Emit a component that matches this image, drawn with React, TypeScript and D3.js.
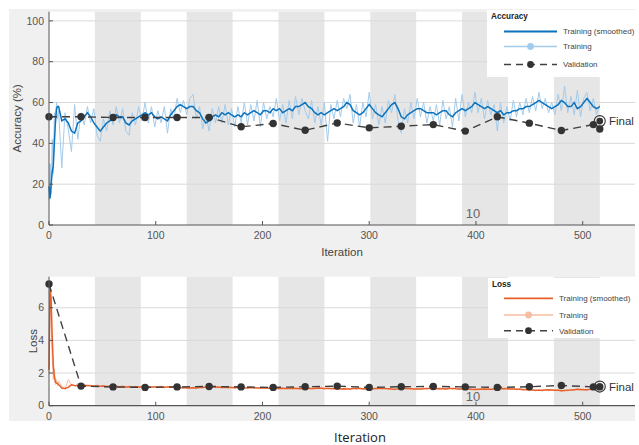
import React from "react";
import * as d3 from "d3";

const W = 639;
const H = 445;

// iterations 0-8 logged one by one, after that every 3rd iteration
const trainIters = [0, 1, 2, 3, 4, 5, 6, 7, 8, ...d3.range(9, 517, 3)];

const accSmoothed = [
  19, 13, 20, 26, 29, 40, 50, 57, 58,
  58, 51, 52, 50, 46, 45, 50, 51, 53, 55,
  53, 50, 48, 46, 48, 50, 51, 52, 54, 53,
  53, 50, 49, 51, 52, 53, 54, 55, 54, 55,
  53, 52, 53, 52, 51, 54, 56, 58, 59, 58,
  57, 58, 58, 56, 55, 52, 50, 51, 53, 54,
  53, 55, 54, 55, 54, 53, 54, 53, 55, 54,
  55, 56, 55, 54, 56, 56, 55, 57, 56, 57,
  55, 56, 57, 56, 58, 58, 59, 60, 58, 57,
  55, 54, 55, 54, 55, 56, 57, 56, 57, 58,
  60, 59, 56, 55, 54, 55, 57, 59, 57, 55,
  54, 53, 55, 57, 59, 60, 57, 53, 52, 54,
  55, 56, 57, 57, 56, 55, 55, 55, 54, 55,
  56, 56, 54, 53, 55, 56, 57, 56, 57, 58,
  60, 59, 58, 57, 58, 57, 56, 55, 56, 54,
  55, 55, 56, 56, 57, 57, 58, 58, 59, 60,
  61, 60, 59, 58, 57, 58, 59, 61, 60, 58,
  58, 60, 57, 58, 60, 62, 60, 58, 57, 58,
];

const accTraining = [
  12, 30, 15, 42, 25, 55, 48, 60, 52,
  56, 28, 55, 47, 36, 59, 42, 55, 49, 58,
  50, 57, 44, 41, 52, 46, 56, 49, 58, 50,
  57, 46, 44, 55, 49, 58, 51, 60, 50, 58,
  48, 56, 50, 58, 45, 57, 52, 62, 55, 61,
  54, 62, 64, 52, 58, 47, 54, 46, 57, 50,
  58, 50, 59, 49, 57, 48, 58, 50, 60, 49,
  59, 51, 61, 48, 60, 52, 58, 53, 62, 51,
  59, 50, 61, 52, 63, 54, 62, 56, 52, 61,
  50, 58, 49, 60, 41, 59, 52, 61, 53, 62,
  57, 64, 50, 59, 48, 60, 53, 65, 52, 59,
  49, 58, 50, 61, 55, 64, 51, 45, 57, 50,
  60, 52, 62, 53, 60, 50, 58, 51, 59, 49,
  61, 52, 58, 48, 62, 51, 64, 53, 60, 55,
  65, 55, 62, 52, 61, 54, 59, 46, 60, 50,
  58, 51, 61, 53, 60, 54, 62, 55, 63, 56,
  65, 57, 62, 55, 60, 54, 64, 56, 68, 55,
  63, 54, 66, 53, 62, 65, 56, 62, 54, 59,
];

const lossSmoothed = [
  2.2, 7.3, 6.5, 4.2, 2.5, 1.8, 1.45, 1.4, 1.35,
  1.3, 1.08, 1.05, 1.12, 1.28, 1.24, 1.22, 1.25, 1.24, 1.23,
  1.22, 1.2, 1.21, 1.19, 1.2, 1.18, 1.19, 1.17, 1.18, 1.16,
  1.17, 1.15, 1.16, 1.15, 1.16, 1.14, 1.15, 1.13, 1.15, 1.14,
  1.15, 1.14, 1.16, 1.13, 1.14, 1.15, 1.13, 1.12, 1.1, 1.11,
  1.09, 1.08, 1.1, 1.09, 1.11, 1.12, 1.14, 1.16, 1.15, 1.14,
  1.13, 1.12, 1.11, 1.13, 1.12, 1.1, 1.11, 1.12, 1.1, 1.09,
  1.11, 1.1, 1.08, 1.09, 1.1, 1.08, 1.07, 1.04, 1.06, 1.05,
  1.07, 1.06, 1.05, 1.07, 1.06, 1.05, 1.04, 1.06, 1.07, 1.05,
  1.06, 1.08, 1.07, 1.06, 1.05, 1.06, 1.04, 1.05, 1.03, 1.04,
  1.02, 1.03, 1.05, 1.06, 1.05, 1.04, 1.03, 1.02, 1.04, 1.05,
  1.06, 1.07, 1.05, 1.04, 1.02, 1.01, 1.03, 1.08, 1.06, 1.05,
  1.04, 1.03, 1.02, 1.03, 1.04, 1.05, 1.06, 1.05, 1.04, 1.05,
  1.04, 1.03, 1.05, 1.06, 1.04, 1.03, 1.02, 1.03, 1.02, 1.0,
  0.99, 1.0, 1.01, 1.02, 1.0, 1.01, 1.03, 1.05, 1.04, 1.06,
  1.04, 1.03, 1.02, 1.01, 1.0, 0.99, 0.98, 0.97, 0.96, 0.95,
  0.94, 0.95, 0.96, 0.97, 0.96, 0.95, 0.94, 0.92, 0.93, 0.95,
  0.96, 0.98, 1.0, 0.99, 0.98, 0.97, 1.0, 1.03, 1.05, 1.08,
];

const lossTraining = [
  2.0, 7.4, 5.0, 3.0, 1.6, 2.2, 1.3, 1.6, 1.2,
  1.5, 1.2, 1.0, 1.6, 1.3, 1.2, 1.35, 1.15, 1.3, 1.2,
  1.25, 1.15, 1.28, 1.16, 1.24, 1.14, 1.22, 1.12, 1.22, 1.12,
  1.2, 1.1, 1.22, 1.11, 1.2, 1.1, 1.2, 1.09, 1.19, 1.1,
  1.2, 1.1, 1.21, 1.08, 1.18, 1.1, 1.17, 1.08, 1.14, 1.06,
  1.13, 1.04, 1.14, 1.05, 1.16, 1.08, 1.19, 1.12, 1.2, 1.1,
  1.18, 1.08, 1.16, 1.08, 1.17, 1.06, 1.15, 1.08, 1.14, 1.05,
  1.15, 1.06, 1.13, 1.04, 1.14, 1.04, 1.11, 1.0, 1.1, 1.01,
  1.12, 1.02, 1.1, 1.03, 1.11, 1.0, 1.09, 1.02, 1.12, 1.0,
  1.11, 1.03, 1.12, 1.01, 1.1, 1.02, 1.09, 1.0, 1.08, 0.99,
  1.07, 0.98, 1.1, 1.01, 1.1, 0.99, 1.08, 0.97, 1.09, 1.0,
  1.11, 1.02, 1.1, 0.99, 1.07, 0.96, 1.08, 1.13, 1.1, 1.0,
  1.09, 0.98, 1.07, 0.98, 1.09, 1.0, 1.11, 1.0, 1.09, 1.0,
  1.09, 0.98, 1.1, 1.01, 1.09, 0.98, 1.07, 0.97, 1.07, 0.95,
  1.04, 0.95, 1.06, 0.97, 1.05, 0.96, 1.08, 1.0, 1.09, 1.01,
  1.09, 0.98, 1.07, 0.96, 1.05, 0.94, 1.03, 0.92, 1.01, 0.9,
  0.99, 0.9, 1.01, 0.92, 1.01, 0.9, 0.99, 0.87, 0.98, 0.9,
  1.01, 0.93, 1.05, 0.94, 1.03, 0.92, 1.05, 0.98, 1.1, 1.03,
];

const valIters = [0, 30, 60, 90, 120, 150, 180, 210, 240, 270, 300, 330, 360, 390, 420, 450, 480, 510, 516];
const valAccuracy = [53, 53, 52.7, 52.7, 52.7, 52.7, 48.1, 49.7, 46.4, 50, 47.6, 48.4, 49.2, 46, 53, 49.9, 46.3, 49.2, 47];
const valLoss = [7.45, 1.2, 1.15, 1.12, 1.15, 1.18, 1.15, 1.12, 1.16, 1.2, 1.12, 1.16, 1.18, 1.15, 1.12, 1.16, 1.24, 1.15, 1.15];

const finalIter = 516;
const finalAccuracy = 50.9;
const finalLoss = 1.17;

// epoch boundaries (43 iterations per epoch)
const epochEdges = [0, 43, 86, 129, 172, 215, 258, 301, 344, 387, 430, 473, 516];
const xTicks = [0, 100, 200, 300, 400, 500];
const accTicks = [0, 20, 40, 60, 80, 100];
const lossTicks = [0, 2, 4, 6];
const legendLabels = ["Training (smoothed)", "Training", "Validation"];

const FONT = "'Liberation Sans', Arial, sans-serif";
const AXIS = "#555";

type PanelProps = {
  top: number;
  bottom: number;
  yMax: number;
  yTicks: number[];
  yLabel: string;
  yLabelX: number;
  title: string;
  smoothed: number[];
  raw: number[];
  val: number[];
  finalVal: number;
  dark: string;
  light: string;
  legend: { x0: number; y0: number; y1: number; rows: number[]; titleY: number; lineEnd: number };
  xTickY: number;
  strayY: number;
};

const x = d3.scaleLinear().domain([0, 549]).range([49, 635]);

function Panel(p: PanelProps) {
  const y = d3.scaleLinear().domain([0, p.yMax]).range([p.bottom, p.top]);
  const line = d3
    .line<number>()
    .x((_, i) => x(trainIters[i]))
    .y((d) => y(d));
  const valLine = d3
    .line<number>()
    .x((_, i) => x(valIters[i]))
    .y((d) => y(d));
  const lg = p.legend;
  const mid = (504 + lg.lineEnd) / 2;
  return (
    <g>
      <rect x={49} y={p.top} width={635 - 49} height={p.bottom - p.top} fill="#fff" />
      {epochEdges.slice(0, -1).map((e, i) =>
        i % 2 === 1 ? (
          <rect key={e} x={x(e)} y={p.top} width={x(epochEdges[i + 1]) - x(e)} height={p.bottom - p.top} fill="#e6e6e6" />
        ) : null
      )}
      {p.yTicks.slice(1).map((t) => (
        <line key={t} x1={49} x2={635} y1={y(t)} y2={y(t)} stroke="#d9d9d9" strokeWidth={1} />
      ))}
      <path d={line(p.raw) || ""} fill="none" stroke={p.light} strokeWidth={1} />
      <path d={line(p.smoothed) || ""} fill="none" stroke={p.dark} strokeWidth={1.5} />
      <path d={valLine(p.val) || ""} fill="none" stroke="#404040" strokeWidth={1.4} strokeDasharray="8,5" />
      {p.val.map((v, i) => (
        <circle key={i} cx={x(valIters[i])} cy={y(v)} r={3.7} fill="#333" />
      ))}
      <circle cx={x(finalIter)} cy={y(p.finalVal)} r={5.5} fill="none" stroke="#333" strokeWidth={1.1} />
      <circle cx={x(finalIter)} cy={y(p.finalVal)} r={3.4} fill="#333" />
      <text x={609} y={y(p.finalVal)} dy="0.35em" fontSize={11.5} fill="#333" fontFamily={FONT}>
        Final
      </text>
      <text x={473} y={p.strayY} dy="0.35em" textAnchor="middle" fontSize={13} fill="#666" fontFamily={FONT}>
        10
      </text>
      {/* axes */}
      <line x1={49} x2={49} y1={p.top} y2={p.bottom} stroke={AXIS} strokeWidth={1} />
      <line x1={49} x2={635} y1={p.bottom} y2={p.bottom} stroke={AXIS} strokeWidth={1.2} />
      {xTicks.map((t) => (
        <g key={t}>
          <line x1={x(t)} x2={x(t)} y1={p.bottom} y2={p.bottom - 4} stroke={AXIS} />
          <text x={x(t)} y={p.xTickY} dy="0.35em" textAnchor="middle" fontSize={10.5} fill={AXIS} fontFamily={FONT}>
            {t}
          </text>
        </g>
      ))}
      {p.yTicks.map((t) => (
        <g key={t}>
          <line x1={49} x2={53} y1={y(t)} y2={y(t)} stroke={AXIS} />
          <text x={44} y={y(t)} dy="0.35em" textAnchor="end" fontSize={10.5} fill={AXIS} fontFamily={FONT}>
            {t}
          </text>
        </g>
      ))}
      <text
        transform={`translate(${p.yLabelX},${(p.top + p.bottom) / 2}) rotate(-90)`}
        textAnchor="middle"
        dy="0.35em"
        fontSize={11.5}
        fill="#444"
        fontFamily={FONT}
      >
        {p.yLabel}
      </text>
      {/* legend */}
      <rect x={lg.x0} y={lg.y0} width={636 - lg.x0} height={lg.y1 - lg.y0} fill="#fff" />
      <text x={lg.x0 + 4} y={lg.titleY} dy="0.35em" fontSize={8.2} fontWeight="bold" fill="#222" fontFamily={FONT}>
        {p.title}
      </text>
      <line x1={504} x2={lg.lineEnd} y1={lg.rows[0]} y2={lg.rows[0]} stroke={p.dark} strokeWidth={1.8} />
      <line x1={504} x2={lg.lineEnd} y1={lg.rows[1]} y2={lg.rows[1]} stroke={p.light} strokeWidth={1.5} />
      <circle cx={mid} cy={lg.rows[1]} r={3.4} fill={p.light} />
      <line x1={504} x2={lg.lineEnd} y1={lg.rows[2]} y2={lg.rows[2]} stroke="#404040" strokeWidth={1.4} strokeDasharray="7,5" />
      <circle cx={mid} cy={lg.rows[2]} r={3.4} fill="#333" />
      {legendLabels.map((l, i) => (
        <text key={l} x={lg.lineEnd + 6} y={lg.rows[i]} dy="0.35em" fontSize={8} fill="#444" fontFamily={FONT}>
          {l}
        </text>
      ))}
    </g>
  );
}

export default function App() {
  return (
    <svg width={W} height={H} style={{ position: "absolute", left: 0, top: 0 }}>
      <rect x={0} y={0} width={W} height={H} fill="#fff" />
      <rect x={9} y={9} width={626} height={412} fill="#f0f0f0" />
      <Panel
        top={11.7}
        bottom={225}
        yMax={104.5}
        yTicks={accTicks}
        yLabel="Accuracy (%)"
        yLabelX={17}
        title="Accuracy"
        smoothed={accSmoothed}
        raw={accTraining}
        val={valAccuracy}
        finalVal={finalAccuracy}
        dark="#0b72bd"
        light="#a3cbec"
        legend={{ x0: 487, y0: 10, y1: 77, rows: [31.5, 46.5, 64.5], titleY: 16.5, lineEnd: 557 }}
        xTickY={235.5}
        strayY={213}
      />
      <text x={342} y={252} dy="0.35em" textAnchor="middle" fontSize={11.5} fill="#444" fontFamily={FONT}>
        Iteration
      </text>
      <Panel
        top={276.7}
        bottom={405.7}
        yMax={7.9}
        yTicks={lossTicks}
        yLabel="Loss"
        yLabelX={33}
        title="Loss"
        smoothed={lossSmoothed}
        raw={lossTraining}
        val={valLoss}
        finalVal={finalLoss}
        dark="#e8602a"
        light="#f6bda2"
        legend={{ x0: 488, y0: 278, y1: 338, rows: [298.3, 315, 330.7], titleY: 284.5, lineEnd: 553 }}
        xTickY={416}
        strayY={396}
      />
      <text x={360} y={437} dy="0.35em" textAnchor="middle" fontSize={13} fill="#222" fontFamily="'Open Sans', sans-serif">
        Iteration
      </text>
    </svg>
  );
}
